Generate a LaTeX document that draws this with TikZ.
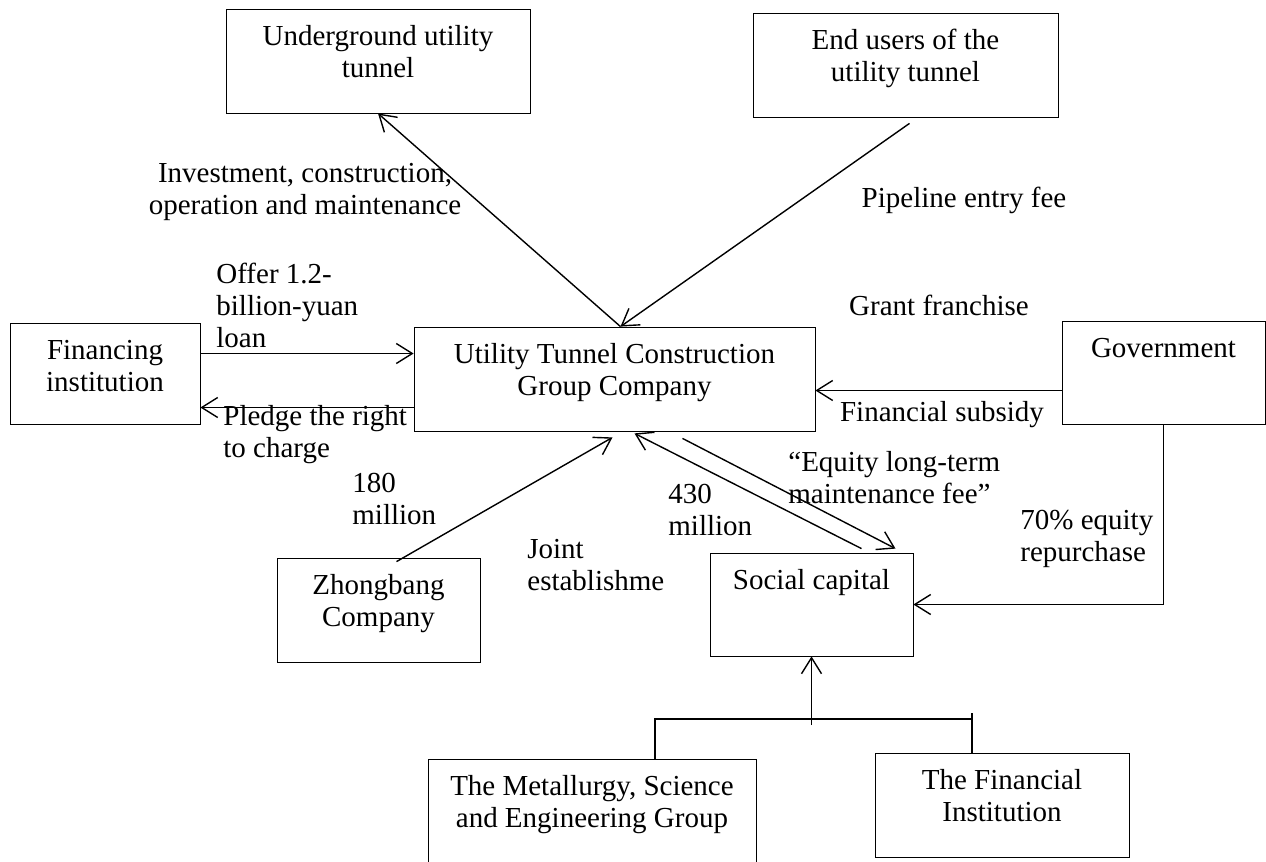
\documentclass[tikz,border=0pt]{standalone}
\usepackage{fontspec}
\setmainfont{Liberation Serif}
\usetikzlibrary{arrows.meta}
\newcommand{\boxtext}[3]{\parbox[c][#2][t]{#1}{\centering\vspace*{7pt}\strut #3\par}}

\begin{document}
\begin{tikzpicture}[x=0.5pt,y=-0.5pt,
    >={Straight Barb[length=8pt,width=10pt]},
    party/.style={
% The shape:
rectangle,
% The size:
inner sep=0pt,
% The border:
thin, draw,
% The text:
font=\fontsize{14.5}{16}\selectfont,
},
    flow/.style={
% The text:
font=\fontsize{14.5}{16}\selectfont,
inner sep=0pt,
},
    link/.style={line width=0.7pt},
]
  \useasboundingbox (0,0) rectangle (1266,862);

  \node[party] (tunnel)    at (378,61)      {\boxtext{152pt}{52pt}{Underground utility\\tunnel}};
  \node[party] (users)     at (905.5,65)    {\boxtext{152.5pt}{52pt}{End users of the\\utility tunnel}};
  \node[party] (lender)    at (105,373.5)   {\boxtext{95pt}{50.5pt}{Financing\\institution}};
  \node[party] (group)     at (614.5,379)   {\boxtext{200.5pt}{52pt}{Utility Tunnel Construction\\Group Company}};
  \node[party] (gov)       at (1163.5,372.5){\boxtext{101.5pt}{51.5pt}{Government}};
  \node[party] (zhongbang) at (378.5,610)   {\boxtext{101.5pt}{52pt}{Zhongbang\\Company}};
  \node[party] (social)    at (811.5,604.5) {\boxtext{101.5pt}{51.5pt}{Social capital}};
  \node[party] (mcc)       at (592,813)     {\boxtext{164pt}{54pt}{The Metallurgy, Science\\and Engineering Group}};
  \node[party] (fininst)   at (1002,805)    {\boxtext{127pt}{52pt}{The Financial\\Institution}};

  \node[flow, align=center]             (l-invest)  at (305,192)   {Investment, construction,\\operation and maintenance};
  \node[flow]                           (l-entry)   at (964,200)   {Pipeline entry fee};
  \node[flow, align=left, anchor=west]  (l-loan)    at (216,305.5) {Offer 1.2-\\billion-yuan\\loan};
  \node[flow]                           (l-grant)   at (939,305)   {Grant franchise};
  \node[flow]                           (l-subsidy) at (942,415)   {Financial subsidy};
  \node[flow, align=left, anchor=west]  (l-pledge)  at (223,435)   {Pledge the right\\to charge};
  \node[flow, align=left, anchor=west]  (l-180)     at (352,499)   {180\\million};
  \node[flow, align=left, anchor=west]  (l-joint)   at (527,565)   {Joint\\establishme};
  \node[flow, align=left, anchor=west]  (l-430)     at (668,510)   {430\\million};
  \node[flow, align=left, anchor=west]  (l-fee)     at (788,477.5) {“Equity long-term\\maintenance fee”};
  \node[flow, align=left, anchor=west]  (l-buyback) at (1020,539)  {70\% equity\\repurchase};

  \draw [link,->] ([xshift=3pt]group.north) -- (tunnel.south);
  \draw [link,->] ([shift={(2pt,-3pt)}]users.south) -- ([xshift=3pt]group.north);
  \draw [link,->] ([yshift=10pt]lender.east) -- ([yshift=10pt]lender.east -| group.west);
  \draw [link,->] ([yshift=-17pt]lender.east -| group.west) -- ([yshift=-17pt]lender.east);
  \draw [link,->] ([yshift=-9pt]gov.west) -- ([yshift=-9pt]gov.west -| group.east);
  \draw [link,->] (gov.south) |- (social.east);
  \draw [link,->] ([shift={(9pt,-2pt)}]zhongbang.north) -- ([shift={(-1pt,-3pt)}]group.south);
  \draw [link,->] ([shift={(25pt,2pt)}]social.north) -- ([shift={(10pt,-1pt)}]group.south);
  \draw [link,->] ([shift={(34pt,-3.5pt)}]group.south) -- ([shift={(42pt,2pt)}]social.north);

  \coordinate (fork) at (811.5,719);
  \draw [link,->] ([yshift=-3pt]fork) -- (social.south);
  \draw [link] ([xshift=31.5pt]mcc.north) |- ([xshift=-15pt]fininst.north |- fork);
  \draw [link] ([xshift=-15pt]fininst.north) -- ([shift={(-15pt,20pt)}]fininst.north);

\end{tikzpicture}
\end{document}
